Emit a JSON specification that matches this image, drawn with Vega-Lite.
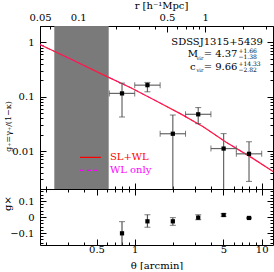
{
"$schema":"https://vega.github.io/schema/vega-lite/v6.json",
"padding":{"left":2,"top":0,"right":0,"bottom":0},
"spacing":0,
"bounds":"flush",
"config":{"view":{"stroke":null},"axis":{"grid":false,"domainColor":"#000","tickColor":"#000","labelColor":"#000","titleColor":"#000","labelFont":"DejaVu Serif","titleFont":"DejaVu Serif","labelFontSize":10,"titleFontSize":10,"titleFontWeight":"normal","labelFlush":false,"labelOverlap":false,"zindex":1,"tickWidth":1,"domainWidth":1}},
"datasets":{
"model":[{"theta":0.179,"g":0.91},{"theta":0.316,"g":0.489},{"theta":0.545,"g":0.263},{"theta":0.939,"g":0.145},{"theta":1.477,"g":0.0833},{"theta":2.32,"g":0.0478},{"theta":3.46,"g":0.028},{"theta":5.25,"g":0.0145},{"theta":8.27,"g":0.00764},{"theta":12.3,"g":0.00421}],
"pts":[{"theta":0.794,"g":0.115,"glo":0.0423,"ghi":0.178,"tlo":0.631,"thi":1.0},{"theta":1.259,"g":0.163,"glo":0.123,"ghi":0.183,"tlo":1.0,"thi":1.585},{"theta":1.995,"g":0.0208,"glo":0.0005,"ghi":0.046,"tlo":1.585,"thi":2.512},{"theta":3.162,"g":0.0474,"glo":0.0319,"ghi":0.063,"tlo":2.512,"thi":3.981},{"theta":5.012,"g":0.0111,"glo":0.0005,"ghi":0.0209,"tlo":3.981,"thi":6.31},{"theta":7.943,"g":0.00888,"glo":0.00276,"ghi":0.0148,"tlo":6.31,"thi":10.0}],
"cross":[{"theta":0.794,"g":-0.102,"glo":-0.25,"ghi":-0.029},{"theta":1.259,"g":-0.027,"glo":-0.064,"ghi":0.014},{"theta":1.995,"g":-0.027,"glo":-0.052,"ghi":-0.004},{"theta":3.162,"g":-0.004,"glo":-0.017,"ghi":0.014},{"theta":5.012,"g":0.0125,"glo":0.0045,"ghi":0.0205},{"theta":7.943,"g":-0.006,"glo":-0.01,"ghi":-0.002}]
},
"vconcat":[
{"width":233,"height":163,
"resolve":{"axis":{"x":"independent","y":"independent"}},
"layer":[
{"data":{"values":[{"lo":0.2326,"hi":0.6237}]},"mark":{"type":"rect","color":"#7a7a7a"},
 "encoding":{"x":{"field":"lo","type":"quantitative","scale":{"type":"log","domain":[0.17947,12.27],"nice":false},"axis":null},"x2":{"field":"hi"}}},
{"data":{"name":"model"},"mark":{"type":"line","color":"#ff00ff","strokeDash":[4,3],"strokeWidth":1,"clip":true},
 "encoding":{"x":{"field":"theta","type":"quantitative","scale":{"type":"log","domain":[0.17947,12.27],"nice":false},
   "axis":{"orient":"bottom","values":[0.2,0.3,0.4,0.5,0.6,0.7,0.8,0.9,1,2,3,4,5,6,7,8,9,10],"labels":false,"title":null,"tickSize":{"condition":{"test":"indexof([0.5,1,5,10], datum.value) >= 0","value":-6},"value":-3}}},
  "y":{"field":"g","type":"quantitative","scale":{"type":"log","domain":[0.002,2],"nice":false},
   "axis":{"orient":"left","values":[0.002,0.003,0.004,0.005,0.006,0.007,0.008,0.009,0.01,0.02,0.03,0.04,0.05,0.06,0.07,0.08,0.09,0.1,0.2,0.3,0.4,0.5,0.6,0.7,0.8,0.9,1,2],"labelExpr":"indexof([0.01,0.1,1], datum.value) >= 0 ? format(datum.value, '~g') : ''","labelPadding":12,"title":"g₊=γ₊/(1−κ)","titleFontSize":8,"titleX":-28,"titleY":100,"tickSize":{"condition":{"test":"indexof([0.01,0.1,1], datum.value) >= 0","value":-6},"value":-3}}}}},
{"data":{"name":"model"},"mark":{"type":"line","color":"#ff1a40","strokeWidth":1.2,"clip":true},
 "encoding":{"x":{"field":"theta","type":"quantitative","scale":{"type":"log","domain":[0.17947,12.27],"nice":false},
   "axis":{"orient":"top","values":[0.17947,0.21536,0.25126,0.28715,0.32305,0.35894,0.71788,1.07682,1.43576,1.7947,2.15364,2.51258,2.87152,3.23046,3.5894,7.1788,10.7682],"labelExpr":"indexof([5,10,50,100], round(datum.value*27.86)) >= 0 ? format(round(datum.value*27.86)/100, '~g') : ''","labelPadding":10,"title":"r [h⁻¹Mpc]","titlePadding":-1,"titleX":121,"tickSize":{"condition":{"test":"indexof([5,10,50,100], round(datum.value*27.86)) >= 0","value":-6},"value":-3}}},
  "y":{"field":"g","type":"quantitative","scale":{"type":"log","domain":[0.002,2],"nice":false},
   "axis":{"orient":"right","values":[0.002,0.003,0.004,0.005,0.006,0.007,0.008,0.009,0.01,0.02,0.03,0.04,0.05,0.06,0.07,0.08,0.09,0.1,0.2,0.3,0.4,0.5,0.6,0.7,0.8,0.9,1,2],"labels":false,"title":null,"tickSize":{"condition":{"test":"indexof([0.01,0.1,1], datum.value) >= 0","value":-6},"value":-3}}}}},
{"data":{"name":"pts"},"mark":{"type":"rule","color":"#666","strokeWidth":1.2,"clip":true},
 "encoding":{"x":{"field":"theta","type":"quantitative","scale":{"type":"log","domain":[0.17947,12.27],"nice":false},"axis":null},
  "y":{"field":"glo","type":"quantitative","scale":{"type":"log","domain":[0.002,2],"nice":false},"axis":null},"y2":{"field":"ghi"}}},
{"data":{"name":"pts"},"transform":[{"fold":["glo","ghi"],"as":["k","v"]}],"mark":{"type":"tick","orient":"horizontal","color":"#444","size":6,"thickness":1,"clip":true},
 "encoding":{"x":{"field":"theta","type":"quantitative","scale":{"type":"log","domain":[0.17947,12.27],"nice":false},"axis":null},
  "y":{"field":"v","type":"quantitative","scale":{"type":"log","domain":[0.002,2],"nice":false},"axis":null}}},
{"data":{"name":"pts"},"mark":{"type":"rule","color":"#666","strokeWidth":1.2,"clip":true},
 "encoding":{"x":{"field":"tlo","type":"quantitative","scale":{"type":"log","domain":[0.17947,12.27],"nice":false},"axis":null},"x2":{"field":"thi"},
  "y":{"field":"g","type":"quantitative","scale":{"type":"log","domain":[0.002,2],"nice":false},"axis":null}}},
{"data":{"name":"pts"},"transform":[{"fold":["tlo","thi"],"as":["k","v"]}],"mark":{"type":"tick","orient":"vertical","color":"#444","size":6,"thickness":1,"clip":true},
 "encoding":{"x":{"field":"v","type":"quantitative","scale":{"type":"log","domain":[0.17947,12.27],"nice":false},"axis":null},
  "y":{"field":"g","type":"quantitative","scale":{"type":"log","domain":[0.002,2],"nice":false},"axis":null}}},
{"data":{"name":"pts"},"mark":{"type":"point","shape":"square","filled":true,"color":"#000","size":18,"opacity":1},
 "encoding":{"x":{"field":"theta","type":"quantitative","scale":{"type":"log","domain":[0.17947,12.27],"nice":false},"axis":null},
  "y":{"field":"g","type":"quantitative","scale":{"type":"log","domain":[0.002,2],"nice":false},"axis":null}}},
{"data":{"values":[{"x1":0.3706,"x2":0.5424,"y":0.00764}]},"mark":{"type":"rule","color":"#ff0000","strokeWidth":1.2},
 "encoding":{"x":{"field":"x1","type":"quantitative","scale":{"type":"log","domain":[0.17947,12.27],"nice":false},"axis":null},"x2":{"field":"x2"},
  "y":{"field":"y","type":"quantitative","scale":{"type":"log","domain":[0.002,2],"nice":false},"axis":null}}},
{"data":{"values":[{"x1":0.3706,"x2":0.5424,"y":0.0044}]},"mark":{"type":"rule","color":"#ff00ff","strokeWidth":1.2,"strokeDash":[4,3]},
 "encoding":{"x":{"field":"x1","type":"quantitative","scale":{"type":"log","domain":[0.17947,12.27],"nice":false},"axis":null},"x2":{"field":"x2"},
  "y":{"field":"y","type":"quantitative","scale":{"type":"log","domain":[0.002,2],"nice":false},"axis":null}}},
{"data":{"values":[{"x":0.6382,"y":0.00764,"t":"SL+WL"}]},"mark":{"type":"text","align":"left","baseline":"middle","font":"DejaVu Serif","fontSize":10,"color":"#ff0000"},
 "encoding":{"x":{"field":"x","type":"quantitative","scale":{"type":"log","domain":[0.17947,12.27],"nice":false},"axis":null},
  "y":{"field":"y","type":"quantitative","scale":{"type":"log","domain":[0.002,2],"nice":false},"axis":null},"text":{"field":"t"}}},
{"data":{"values":[{"x":0.6382,"y":0.0044,"t":"WL only"}]},"mark":{"type":"text","align":"left","baseline":"middle","font":"DejaVu Serif","fontSize":10,"color":"#ff00ff"},
 "encoding":{"x":{"field":"x","type":"quantitative","scale":{"type":"log","domain":[0.17947,12.27],"nice":false},"axis":null},
  "y":{"field":"y","type":"quantitative","scale":{"type":"log","domain":[0.002,2],"nice":false},"axis":null},"text":{"field":"t"}}},
{"data":{"values":[{"x":10.23,"y":1.024,"t":"SDSSJ1315+5439"},{"x":6.445,"y":0.606,"t":"= 4.37"},{"x":6.445,"y":0.3557,"t":"= 9.66"}]},"mark":{"type":"text","align":"right","baseline":"middle","font":"DejaVu Serif","fontSize":10,"color":"#000"},
 "encoding":{"x":{"field":"x","type":"quantitative","scale":{"type":"log","domain":[0.17947,12.27],"nice":false},"axis":null},
  "y":{"field":"y","type":"quantitative","scale":{"type":"log","domain":[0.002,2],"nice":false},"axis":null},"text":{"field":"t"}}},
{"data":{"values":[{"x":2.611,"y":0.606,"t":"M"},{"x":2.724,"y":0.3557,"t":"c"}]},"mark":{"type":"text","align":"left","baseline":"middle","font":"DejaVu Serif","fontSize":10,"color":"#000"},
 "encoding":{"x":{"field":"x","type":"quantitative","scale":{"type":"log","domain":[0.17947,12.27],"nice":false},"axis":null},
  "y":{"field":"y","type":"quantitative","scale":{"type":"log","domain":[0.002,2],"nice":false},"axis":null},"text":{"field":"t"}}},
{"data":{"values":[{"x":3.064,"y":0.522,"t":"vir"},{"x":3.064,"y":0.3062,"t":"vir"}]},"mark":{"type":"text","align":"left","baseline":"middle","font":"DejaVu Serif","fontSize":5,"color":"#000"},
 "encoding":{"x":{"field":"x","type":"quantitative","scale":{"type":"log","domain":[0.17947,12.27],"nice":false},"axis":null},
  "y":{"field":"y","type":"quantitative","scale":{"type":"log","domain":[0.002,2],"nice":false},"axis":null},"text":{"field":"t"}}},
{"data":{"values":[{"x":6.561,"y":0.7036,"t":"+1.66"},{"x":6.561,"y":0.5448,"t":"−1.38"},{"x":6.561,"y":0.4042,"t":"+14.33"},{"x":6.561,"y":0.3129,"t":"−2.82"}]},"mark":{"type":"text","align":"left","baseline":"middle","font":"DejaVu Serif","fontSize":6,"color":"#000"},
 "encoding":{"x":{"field":"x","type":"quantitative","scale":{"type":"log","domain":[0.17947,12.27],"nice":false},"axis":null},
  "y":{"field":"y","type":"quantitative","scale":{"type":"log","domain":[0.002,2],"nice":false},"axis":null},"text":{"field":"t"}}}
]},
{"width":233,"height":56,
"resolve":{"axis":{"x":"independent","y":"independent"}},
"layer":[
{"mark":{"type":"rule","color":"#888","strokeDash":[1,2],"strokeWidth":1},
 "encoding":{"y":{"datum":0,"type":"quantitative","scale":{"type":"linear","domain":[-0.175,0.175],"nice":false,"zero":false},"axis":null}}},
{"data":{"name":"cross"},"mark":{"type":"rule","color":"#555","strokeWidth":1.2,"clip":true},
 "encoding":{"x":{"field":"theta","type":"quantitative","scale":{"type":"log","domain":[0.17947,12.27],"nice":false},
   "axis":{"orient":"bottom","values":[0.2,0.3,0.4,0.5,0.6,0.7,0.8,0.9,1,2,3,4,5,6,7,8,9,10],"labelExpr":"indexof([0.5,1,5,10], datum.value) >= 0 ? format(datum.value, '~g') : ''","labelPadding":5,"title":"θ [arcmin]","titlePadding":3,"tickSize":{"condition":{"test":"indexof([0.5,1,5,10], datum.value) >= 0","value":-6},"value":-3}}},
  "y":{"field":"glo","type":"quantitative","scale":{"type":"linear","domain":[-0.175,0.175],"nice":false,"zero":false},
   "axis":{"orient":"left","values":[-0.16,-0.14,-0.12,-0.1,-0.08,-0.06,-0.04,-0.02,0,0.02,0.04,0.06,0.08,0.1,0.12,0.14,0.16],"labelExpr":"indexof([-0.1,0,0.1], datum.value) >= 0 ? format(datum.value, '~g') : ''","labelPadding":12,"title":"g×","titleX":-28,"titleY":14,"tickSize":{"condition":{"test":"indexof([-0.1,0,0.1], datum.value) >= 0","value":-6},"value":-3}}},
  "y2":{"field":"ghi"}}},
{"data":{"name":"cross"},"transform":[{"fold":["glo","ghi"],"as":["k","v"]}],"mark":{"type":"tick","orient":"horizontal","color":"#444","size":6,"thickness":1,"clip":true},
 "encoding":{"x":{"field":"theta","type":"quantitative","scale":{"type":"log","domain":[0.17947,12.27],"nice":false},
   "axis":{"orient":"top","values":[0.2,0.3,0.4,0.5,0.6,0.7,0.8,0.9,1,2,3,4,5,6,7,8,9,10],"labels":false,"title":null,"tickSize":{"condition":{"test":"indexof([0.5,1,5,10], datum.value) >= 0","value":-6},"value":-3}}},
  "y":{"field":"v","type":"quantitative","scale":{"type":"linear","domain":[-0.175,0.175],"nice":false,"zero":false},
   "axis":{"orient":"right","values":[-0.16,-0.14,-0.12,-0.1,-0.08,-0.06,-0.04,-0.02,0,0.02,0.04,0.06,0.08,0.1,0.12,0.14,0.16],"labels":false,"title":null,"tickSize":{"condition":{"test":"indexof([-0.1,0,0.1], datum.value) >= 0","value":-6},"value":-3}}}}},
{"data":{"name":"cross"},"mark":{"type":"point","shape":"square","filled":true,"color":"#000","size":18,"opacity":1},
 "encoding":{"x":{"field":"theta","type":"quantitative","scale":{"type":"log","domain":[0.17947,12.27],"nice":false},"axis":null},
  "y":{"field":"g","type":"quantitative","scale":{"type":"linear","domain":[-0.175,0.175],"nice":false,"zero":false},"axis":null}}}
]}
]
}
